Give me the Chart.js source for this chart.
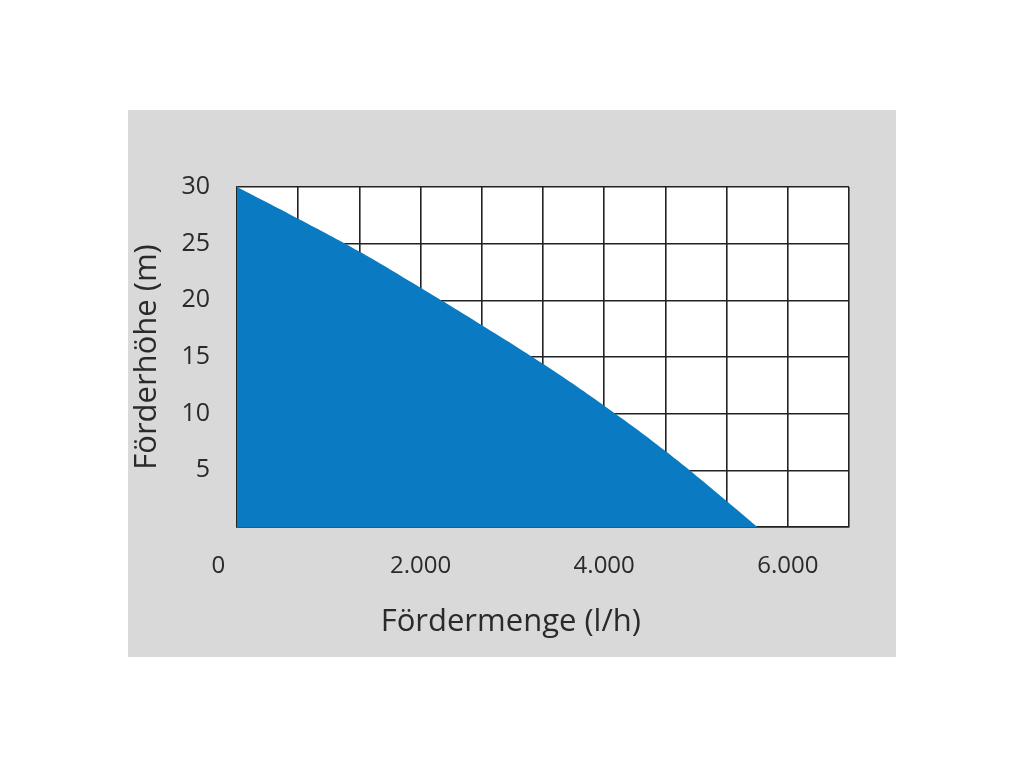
<!DOCTYPE html>
<html lang="de">
<head>
<meta charset="utf-8">
<title>Förderhöhe / Fördermenge</title>
<script src="https://cdn.jsdelivr.net/npm/chart.js@4/dist/chart.umd.min.js"></script>
<style>
  html, body { margin: 0; padding: 0; background: #ffffff; }
  #panel {
    position: absolute;
    left: 128px;
    top: 110px;
    width: 768px;
    height: 547px;
    background: #d9d9d9;
  }
</style>
</head>
<body>
<div id="panel"><canvas id="pumpChart"></canvas></div>
<script>
// Kennlinie
const flowValues = [0, 667, 1333, 2000, 2667, 3333, 4000, 4667, 5333, 5670];
const headValues = [30, 27.2, 24.3, 21.1, 17.8, 14.4, 10.7, 6.7, 2.3, 0];

// x grid: one column = 666.7 l/h, labels every 2.000
const xGridLines = [0, 666.67, 1333.33, 2000, 2666.67, 3333.33, 4000, 4666.67, 5333.33, 6000, 6666.67];
const xTickValues = [0, 2000, 4000, 6000];
const xTickLabels = ["0", "2.000", "4.000", "6.000"];
const yTickValues = [0, 5, 10, 15, 20, 25, 30];
const yTickLabels = ["", "5", "10", "15", "20", "25", "30"];

document.addEventListener("DOMContentLoaded", function () {
  const ctx = document.getElementById("pumpChart").getContext("2d");

  const whiteArea = {
    id: "whiteArea",
    beforeDraw(chart) {
      const a = chart.chartArea;
      chart.ctx.save();
      chart.ctx.fillStyle = "#ffffff";
      chart.ctx.fillRect(a.left, a.top, a.right - a.left, a.bottom - a.top);
      chart.ctx.restore();
    },
  };

  const points = flowValues.map((x, i) => ({ x: x, y: headValues[i] }));

  new Chart(ctx, {
    type: "line",
    data: {
      datasets: [
        {
          data: points,
          borderWidth: 0,
          borderColor: "#0a7bc2",
          backgroundColor: "#0a7bc2",
          fill: "origin",
          pointRadius: 0,
          tension: 0.4,
        },
      ],
    },
    options: {
      responsive: true,
      maintainAspectRatio: false,
      animation: false,
      layout: { padding: { left: 0, top: 77, right: 47, bottom: 0 } },
      plugins: {
        legend: { display: false },
        tooltip: { enabled: false },
      },
      scales: {
        x: {
          type: "linear",
          min: 0,
          max: 6666.67,
          z: 1,
          afterBuildTicks: function (scale) {
            scale.ticks = xGridLines.map((v) => ({ value: v }));
          },
          afterFit: function (scale) {
            scale.height = 130;
          },
          grid: {
            color: "#222222",
            lineWidth: 1.6,
            drawTicks: false,
          },
          border: { color: "#222222", width: 1.6 },
          ticks: {
            autoSkip: false,
            maxRotation: 0,
            padding: 25,
            color: "#2a2a2a",
            font: { family: "'Open Sans'", size: 24 },
            callback: function (value) {
              const idx = xTickValues.findIndex((t) => Math.abs(t - value) < 1);
              if (idx < 0) return "";
              // the "0" sits a bit left of the axis start
              return idx === 0 ? xTickLabels[idx] + "      " : xTickLabels[idx];
            },
          },
          title: {
            display: true,
            text: "Fördermenge (l/h)" + "        ",
            color: "#2a2a2a",
            font: { family: "'Open Sans'", size: 31 },
            padding: { top: 0, bottom: 16 },
          },
        },
        y: {
          min: 0,
          max: 30,
          z: 1,
          afterBuildTicks: function (scale) {
            scale.ticks = yTickValues.map((v) => ({ value: v }));
          },
          afterFit: function (scale) {
            scale.width = 109;
          },
          grid: {
            color: "#222222",
            lineWidth: 1.6,
            drawTicks: false,
          },
          border: { color: "#222222", width: 1.6 },
          ticks: {
            padding: 27,
            color: "#2a2a2a",
            font: { family: "'Open Sans'", size: 25 },
            callback: function (value) {
              const idx = yTickValues.indexOf(value);
              return idx < 0 ? "" : yTickLabels[idx];
            },
          },
          title: {
            display: true,
            text: "Förderhöhe (m)",
            color: "#2a2a2a",
            font: { family: "'Open Sans'", size: 31 },
            padding: { top: 1, bottom: 0 },
          },
        },
      },
    },
    plugins: [whiteArea],
  });
});
</script>
</body>
</html>
